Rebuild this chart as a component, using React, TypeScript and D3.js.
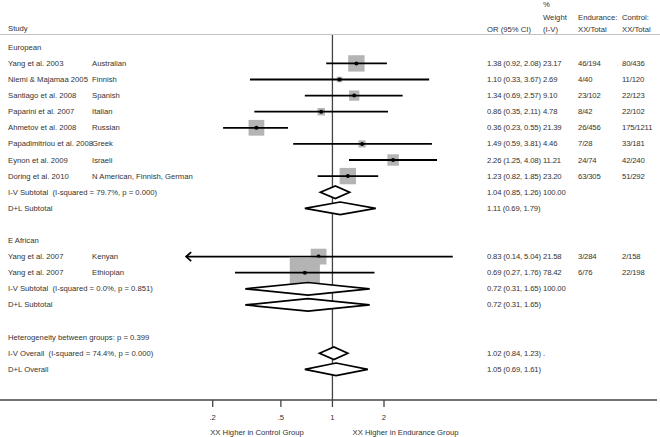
import React from "react";
import * as d3 from "d3";

const studies = ["Yang et al. 2003", "Niemi & Majamaa 2005", "Santiago et al. 2008", "Paparini et al. 2007", "Ahmetov et al. 2008", "Papadimitriou et al. 2008", "Eynon et al. 2009", "Doring et al. 2010", "Yang et al. 2007", "Yang et al. 2007"];
const populations = ["Australian", "Finnish", "Spanish", "Italian", "Russian", "Greek", "Israeli", "N American, Finnish, German", "Kenyan", "Ethiopian"];
const groups = ["European", "European", "European", "European", "European", "European", "European", "European", "E African", "E African"];
const orValues = [1.38, 1.10, 1.34, 0.86, 0.36, 1.49, 2.26, 1.23, 0.83, 0.69];
const ciLow = [0.92, 0.33, 0.69, 0.35, 0.23, 0.59, 1.25, 0.82, 0.14, 0.27];
const ciHigh = [2.08, 3.67, 2.57, 2.11, 0.55, 3.81, 4.08, 1.85, 5.04, 1.76];
const weights = [23.17, 2.69, 9.10, 4.78, 21.39, 4.46, 11.21, 23.20, 21.58, 78.42];
const enduranceXX = ["46/194", "4/40", "23/102", "8/42", "26/456", "7/28", "24/74", "63/305", "3/284", "6/76"];
const controlXX = ["80/436", "11/120", "22/123", "22/102", "175/1211", "33/181", "42/240", "51/292", "2/158", "22/198"];

const groupNames = ["European", "E African"];
const subIVLabel = ["I-V Subtotal  (I-squared = 79.7%, p = 0.000)", "I-V Subtotal  (I-squared = 0.0%, p = 0.851)"];
const subIV = [[1.04, 0.85, 1.26], [0.72, 0.31, 1.65]];
const subDL = [[1.11, 0.69, 1.79], [0.72, 0.31, 1.65]];
const heterogeneityText = "Heterogeneity between groups: p = 0.399";
const overallIV = [1.02, 0.84, 1.23];
const overallDL = [1.05, 0.69, 1.61];
const overallIVLabel = "I-V Overall  (I-squared = 74.4%, p = 0.000)";

const tickValues = [0.2, 0.5, 1, 2];
const tickLabels = [".2", ".5", "1", "2"];
const clipMin = 0.14;

const fmt = (v: number) => v.toFixed(2);
const ciText = (a: number[]) => `${fmt(a[0])} (${fmt(a[1])}, ${fmt(a[2])})`;

type Row =
  | { kind: "group"; label: string }
  | { kind: "study"; i: number }
  | { kind: "sub"; label: string; vals: number[]; weight?: string }
  | { kind: "text"; label: string }
  | { kind: "blank" };

export default function App() {
  const W = 660, H = 437;
  const x = d3.scaleLog().domain([0.2, 2]).range([212.7, 384]);
  const row0 = 47.3, rowH = 16.1;
  const font = "'Liberation Sans', Arial, sans-serif";
  const fs = 7.7;
  const tc = "#333";

  const rows: Row[] = [];
  groupNames.forEach((g, gi) => {
    rows.push({ kind: "group", label: g });
    studies.forEach((_, i) => { if (groups[i] === g) rows.push({ kind: "study", i }); });
    rows.push({ kind: "sub", label: subIVLabel[gi], vals: subIV[gi], weight: "100.00" });
    rows.push({ kind: "sub", label: "D+L Subtotal", vals: subDL[gi] });
    rows.push({ kind: "blank" });
  });
  rows.push({ kind: "text", label: heterogeneityText });
  rows.push({ kind: "sub", label: overallIVLabel, vals: overallIV, weight: "." });
  rows.push({ kind: "sub", label: "D+L Overall", vals: overallDL });

  const xStudy = 8, xPop = 92, xOR = 487, xW = 543, xE = 578, xC = 622;
  const axisY = 400;
  const x1 = x(1);

  const txt = (s: string, tx: number, ty: number, key: string, anchor: string = "start", ls: number = 0) => (
    <text key={key} x={tx} y={ty} fontSize={fs} fontFamily={font} fill={tc} textAnchor={anchor} dominantBaseline="central" letterSpacing={ls} style={{ whiteSpace: "pre" }}>{s}</text>
  );
  const numLS = -0.15;

  const els: React.ReactNode[] = [];
  rows.forEach((r, k) => {
    const y = row0 + rowH * k;
    if (r.kind === "group" || r.kind === "text") {
      els.push(txt(r.label, xStudy, y, `g${k}`));
    } else if (r.kind === "study") {
      const i = r.i;
      els.push(txt(studies[i], xStudy, y, `s${k}`));
      els.push(txt(populations[i], xPop, y, `p${k}`));
      els.push(txt(ciText([orValues[i], ciLow[i], ciHigh[i]]), xOR, y, `o${k}`, "start", numLS));
      els.push(txt(weights[i].toFixed(2), xW, y, `w${k}`, "start", numLS));
      els.push(txt(enduranceXX[i], xE, y, `e${k}`, "start", numLS));
      els.push(txt(controlXX[i], xC, y, `c${k}`, "start", numLS));
      const side = 3.4 * Math.sqrt(weights[i]);
      const cx = x(orValues[i]);
      els.push(<rect key={`sq${k}`} x={cx - side / 2} y={y - side / 2} width={side} height={side} fill="#b4b4b4" />);
      const lo = Math.max(ciLow[i], clipMin);
      els.push(<line key={`ci${k}`} x1={x(lo)} x2={x(ciHigh[i])} y1={y} y2={y} stroke="#000" strokeWidth={1.8} />);
      if (ciLow[i] <= clipMin) {
        const ax = x(lo);
        els.push(<path key={`ar${k}`} d={`M${ax + 5},${y - 4.5} L${ax},${y} L${ax + 5},${y + 4.5}`} fill="none" stroke="#000" strokeWidth={1.8} />);
      }
      els.push(<circle key={`pt${k}`} cx={cx} cy={y} r={2} fill="#000" />);
    } else if (r.kind === "sub") {
      els.push(txt(r.label, xStudy, y, `l${k}`));
      els.push(txt(ciText(r.vals), xOR, y, `o${k}`, "start", numLS));
      if (r.weight) els.push(txt(r.weight, xW, y, `w${k}`, "start", numLS));
      const [m, lo, hi] = r.vals;
      const h = 6.3;
      els.push(<path key={`d${k}`} d={`M${x(lo)},${y} L${x(m)},${y - h} L${x(hi)},${y} L${x(m)},${y + h} Z`} fill="#fff" stroke="#000" strokeWidth={1.7} />);
    }
  });

  return (
    <svg width={W} height={H} style={{ position: "absolute", left: 0, top: 0, background: "#fff" }}>
      <rect x={0} y={0} width={W} height={H} fill="#fff" />
      {txt("Study", xStudy, 28, "hStudy")}
      {txt("OR (95% CI)", xOR, 29, "hOR")}
      {txt("%", xW, 4.5, "hP")}
      {txt("Weight", xW, 17, "hW")}
      {txt("(I-V)", xW, 29, "hIV")}
      {txt("Endurance:", xE, 17, "hE")}
      {txt("XX/Total", xE, 29, "hE2")}
      {txt("Control:", xC, 17, "hC")}
      {txt("XX/Total", xC, 29, "hC2")}
      <line x1={0} x2={W} y1={34.5} y2={34.5} stroke="#c4c4c4" strokeWidth={1} />
      <line x1={x1} x2={x1} y1={35} y2={axisY} stroke="#444" strokeWidth={1.3} />
      {els}
      <line x1={0} x2={W - 3} y1={axisY} y2={axisY} stroke="#444" strokeWidth={1.3} />
      {tickValues.map((t, i) => (
        <g key={`t${i}`}>
          <line x1={x(t)} x2={x(t)} y1={axisY} y2={axisY + 7} stroke="#444" strokeWidth={1.3} />
          {txt(tickLabels[i], x(t), 417, `tl${i}`, "middle")}
        </g>
      ))}
      {txt("XX Higher in Control Group", 257, 432, "ax1", "middle")}
      {txt("XX Higher in Endurance Group", 405.5, 432, "ax2", "middle")}
    </svg>
  );
}
